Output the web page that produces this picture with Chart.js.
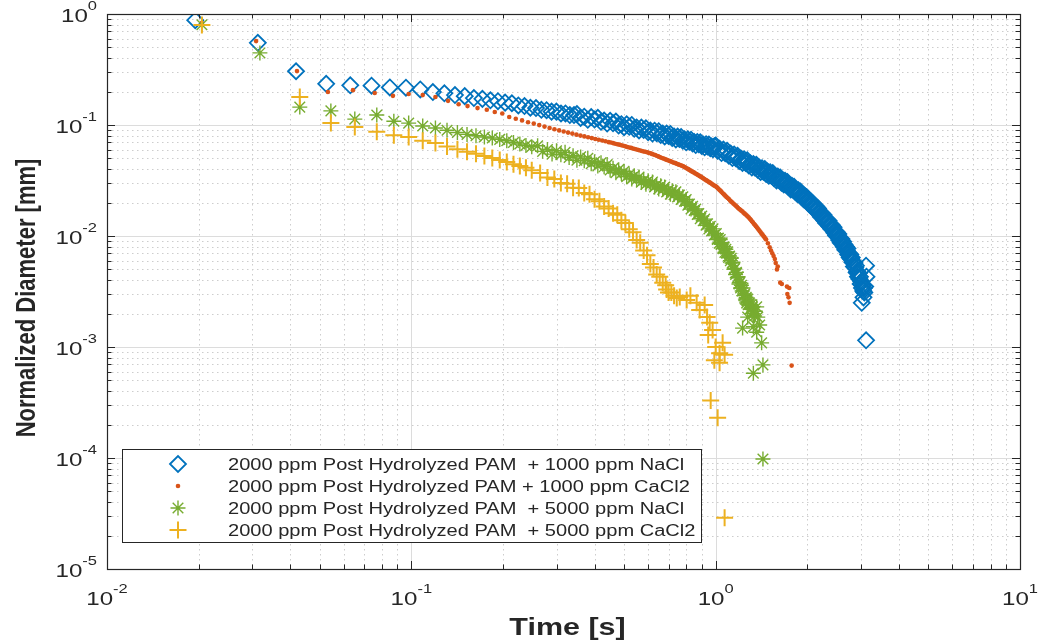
<!DOCTYPE html>
<html><head><meta charset="utf-8">
<script src="https://cdn.jsdelivr.net/npm/chart.js@4"></script>
<style>html,body{margin:0;padding:0;background:#fff;}#wrap{width:1042px;height:644px;}canvas{display:block;}</style>
</head><body><div id="wrap"><canvas id="c" width="1042" height="644"></canvas></div>
<script>
// ---------- data ----------
const legendLabels = [
  '2000 ppm Post Hydrolyzed PAM  + 1000 ppm NaCl',
  '2000 ppm Post Hydrolyzed PAM + 1000 ppm CaCl2',
  '2000 ppm Post Hydrolyzed PAM  + 5000 ppm NaCl',
  '2000 ppm Post Hydrolyzed PAM  + 5000 ppm CaCl2'
];
const xAxisTitle = 'Time [s]';
const yAxisTitle = 'Normalized Diameter [mm]';
const xTickValues = [0.01, 0.1, 1, 10];
const xTickExps = ['-2', '-1', '0', '1'];
const yTickValues = [1e-5, 1e-4, 1e-3, 1e-2, 1e-1, 1];
const yTickExps = ['-5', '-4', '-3', '-2', '-1', '0'];

const blueTime = [0.0195,0.0313,0.0418,0.0525,0.063,0.074,0.085,0.096,
 0.107,0.1177,0.1284,0.1391,0.1498,0.1605,0.1712,0.1819,0.1926,0.2033,0.214,0.2247,0.2354,0.2461,0.2568,0.2675,0.2782,0.2889,0.2996,0.3103,0.321,0.3317,0.3424,
 0.35,0.36,0.37,0.38,0.39,0.40,0.41,0.42,0.43,0.44,0.45,0.46,0.47,0.48,0.49,0.50,0.51,0.52,0.53,0.54,0.55,0.56,0.57,0.58,0.59,0.60,0.61,0.62,0.63,0.64,0.65,0.66,0.67,0.68,0.69,
 0.70,0.71,0.72,0.73,0.74,0.75,0.76,0.77,0.78,0.79,0.80,0.81,0.82,0.83,0.84,0.85,0.86,0.87,0.88,0.89,0.90,0.91,0.92,0.93,0.94,0.95,0.96,0.97,0.98,0.99,
 1.000,1.015,1.030,1.045,1.060,1.075,1.090,1.105,1.120,1.135,1.150,1.165,1.180,1.195,1.210,1.225,1.240,1.255,1.270,1.285,1.300,1.315,1.330,1.345,1.360,1.375,1.390,1.405,1.420,1.435,
 1.450,1.465,1.480,1.495,1.510,1.525,1.540,1.555,1.570,1.585,1.600,1.615,1.630,1.645,1.660,1.675,1.690,1.705,1.720,1.735,1.750,1.765,1.780,1.795,1.810,1.825,1.840,1.855,1.870,1.885,
 1.900,1.915,1.930,1.945,1.960,1.975,1.990,2.005,2.020,2.035,2.050,2.065,2.080,2.095,2.110,2.125,2.140,2.155,2.170,2.185,2.200,2.215,2.230,2.245,2.260,2.275,2.290,2.305,2.320,2.335,
 2.350,2.365,2.380,2.395,2.410,2.425,2.440,2.455,2.470,2.485,2.500,2.515,2.530,2.545,2.560,2.575,2.590,2.605,2.620,2.635,2.650,2.665,2.680,2.695,2.710,2.725,2.740,2.755,2.770,2.785,
 2.800,2.815,2.830,2.845,2.860,2.875,2.890,2.905,2.920,2.935,2.950,2.965,2.980,2.995,3.010,3.025,3.040,3.055,3.070,
 3.02,3.06,3.08,3.10,3.12,3.13,3.12];
const blueDiam = [0.88,0.55,0.305,0.235,0.228,0.226,0.218,0.217,
 0.209,0.198,0.193,0.186,0.182,0.175,0.172,0.167,0.164,0.159,0.157,0.150,0.148,0.143,0.142,0.137,0.136,0.132,0.132,0.127,0.127,0.123,0.123,
 0.1255,0.1157,0.1188,0.1114,0.1179,0.1119,0.1161,0.1069,0.1098,0.1030,0.1091,0.1035,0.1073,0.0988,0.1017,0.0956,0.1014,0.0963,0.1002,0.0924,0.0950,0.0893,0.0947,0.0900,0.0935,0.0863,0.0890,0.0837,0.0889,0.0845,0.0879,0.0812,0.0837,0.0788,0.0836,
 0.0796,0.0828,0.0764,0.0788,0.0741,0.0787,0.0748,0.0779,0.0720,0.0742,0.0699,0.0743,0.0708,0.0736,0.0681,0.0702,0.0660,0.0702,0.0670,0.0699,0.0647,0.0668,0.0630,0.0671,0.0641,0.0668,0.0618,0.0639,0.0605,0.0644,
 0.0652,0.0586,0.0611,0.0559,0.0601,0.0557,0.0587,0.0528,0.0552,0.0504,0.0543,0.0502,0.0528,0.0475,0.0498,0.0456,0.0491,0.0455,0.0480,0.0432,0.0452,0.0414,0.0446,0.0415,0.0438,0.0395,0.0413,0.0378,0.0408,0.0379,
 0.0401,0.0362,0.0380,0.0349,0.0376,0.0349,0.0369,0.0331,0.0346,0.0317,0.0343,0.0319,0.0336,0.0302,0.0317,0.0291,0.0314,0.0291,0.0307,0.0276,0.0288,0.0263,0.0284,0.0263,0.0277,0.0250,0.0261,0.0239,0.0258,0.0238,
 0.0251,0.0225,0.0234,0.0214,0.0230,0.0213,0.0224,0.0201,0.0209,0.0191,0.0205,0.0189,0.0198,0.0179,0.0187,0.0171,0.0184,0.0170,0.0177,0.0158,0.0164,0.0149,0.0160,0.0148,0.0155,0.0138,0.0144,0.0131,0.0141,0.0130,
 0.0137,0.0122,0.0128,0.0116,0.0125,0.0115,0.0120,0.0107,0.0111,0.0101,0.0108,0.0099,0.0104,0.0092,0.0096,0.0087,0.0094,0.0085,0.0089,0.0080,0.0084,0.0075,0.0080,0.0074,0.0077,0.0068,0.0070,0.0064,0.0068,0.0062,
 0.0064,0.0058,0.0059,0.0053,0.0057,0.0052,0.0054,0.0047,0.0048,0.0043,0.0046,0.0041,0.0043,0.0037,0.0039,0.0034,0.0036,0.0032,0.0034,
 0.0025,0.0028,0.0031,0.0035,0.0054,0.0043,0.00115];

const redTime = [0.0205,0.0309,0.0421,0.0532,0.0643,0.0758,0.087,0.098,0.109,0.120,0.132,0.143,0.153,0.165,0.177,0.188,0.199,
 0.2097,0.2204,0.2311,0.2418,0.2525,0.2632,0.2739,0.2846,0.2953,0.306,0.3167,0.3274,0.3381,0.3488,0.3595,0.3702,0.3809,0.3916,0.4023,0.413,0.4237,0.4344,0.4451,
 0.4525,0.46,0.4675,0.475,0.4825,0.49,0.4975,0.505,0.5125,0.52,0.5275,0.535,0.5425,0.55,0.5575,0.565,0.5725,0.58,0.5875,0.595,0.6025,0.61,0.6175,0.625,0.6325,0.64,0.6475,0.655,0.6625,0.67,0.6775,0.685,0.6925,
 0.70,0.7075,0.715,0.7225,0.73,0.7375,0.745,0.7525,0.76,0.7675,0.775,0.7825,0.79,0.7975,0.805,0.8125,0.82,0.8275,0.835,0.8425,0.85,0.8575,0.865,0.8725,0.88,0.8875,0.895,0.9025,0.91,0.9175,0.925,0.9325,
 0.94,0.9475,0.955,0.9625,0.97,0.9775,0.985,0.9925,1.00,1.0075,1.015,1.0225,1.03,1.0375,1.045,
 1.055,1.065,1.075,1.085,1.095,1.105,1.115,1.125,1.135,1.145,1.155,1.165,1.175,1.185,1.195,1.205,1.215,1.225,1.235,1.245,1.255,1.265,1.275,1.285,1.295,1.305,1.315,1.325,1.335,1.345,
 1.355,1.365,1.375,1.385,1.395,1.405,1.415,1.425,1.435,1.445,1.455,1.465,
 1.485,1.505,1.52,1.535,1.55,1.565,1.575,1.59,1.60,1.63,1.65,1.715,1.745,1.72,1.735,1.75,1.777];
const redDiam = [0.83,0.57,0.306,0.198,0.206,0.194,0.183,0.190,0.186,0.179,0.165,0.154,0.148,0.142,0.137,0.131,0.127,
 0.118,0.114,0.110,0.106,0.103,0.0998,0.0967,0.0941,0.0915,0.0894,0.0874,0.0854,0.0837,0.0819,0.0803,0.0789,0.0775,0.0762,0.0748,0.0736,0.0724,0.0713,0.0701,
 0.0695,0.0687,0.0678,0.0671,0.0665,0.0656,0.0650,0.0642,0.0634,0.0628,0.0622,0.0614,0.0607,0.0602,0.0595,0.0590,0.0583,0.0578,0.0574,0.0568,0.0561,0.0556,0.0549,0.0542,0.0536,0.0528,0.0522,0.0515,0.0507,0.0502,0.0497,0.0490,0.0484,
 0.0479,0.0473,0.0468,0.0462,0.0457,0.0453,0.0448,0.0442,0.0438,0.0434,0.0429,0.0424,0.0418,0.0412,0.0406,0.0400,0.0394,0.0388,0.0382,0.0377,0.0372,0.0366,0.0361,0.0356,0.0351,0.0346,0.0341,0.0336,0.0331,0.0326,0.0321,0.0317,
 0.0313,0.0308,0.0304,0.0300,0.0296,0.0291,0.0287,0.0284,0.0280,0.0276,0.0271,0.0265,0.0260,0.0255,0.0250,
 0.0243,0.0237,0.0231,0.0225,0.0220,0.0215,0.0209,0.0204,0.0200,0.0195,0.0191,0.0187,0.0183,0.0179,0.0175,0.0172,0.0169,0.0166,0.0162,0.0159,0.0156,0.0153,0.0150,0.0147,0.0143,0.0140,0.0136,0.0133,0.0129,0.0126,
 0.0123,0.0120,0.0117,0.0114,0.0111,0.0108,0.0105,0.0103,0.0100,0.0098,0.0095,0.0093,
 0.0086,0.0079,0.0074,0.0070,0.0066,0.0062,0.0057,0.0050,0.0053,0.0038,0.0037,0.0035,0.0034,0.0030,0.0028,0.0025,0.00068];

const greenTime = [0.0205,0.0318,0.043,0.0544,0.0652,0.077,0.0876,0.098,0.109,0.120,
 0.131,0.1417,0.1524,0.1631,0.1738,0.1845,0.1952,0.2059,0.2166,0.2273,0.238,0.2487,
 0.26,0.27,0.28,0.29,0.30,0.31,0.32,0.33,0.34,0.35,0.36,0.37,0.38,0.39,0.40,0.41,0.42,0.43,0.44,0.45,0.46,0.47,0.48,0.49,0.50,0.51,0.52,0.53,0.54,0.55,0.56,0.57,0.58,0.59,0.60,0.61,0.62,0.63,
 0.64,0.65,0.66,0.67,0.68,0.69,0.70,0.71,0.72,0.73,0.74,0.75,0.76,0.77,0.78,0.79,0.80,0.81,0.82,0.83,0.84,0.85,0.86,0.87,0.88,0.89,0.90,0.91,0.92,0.93,0.94,0.95,0.96,0.97,0.98,0.99,
 1.005,1.0125,1.02,1.0275,1.035,1.0425,1.05,1.0575,1.065,1.0725,1.08,1.0875,1.095,1.1025,1.11,1.1175,1.125,1.1325,1.14,1.1475,1.155,1.1625,1.17,1.1775,1.185,1.1925,1.20,1.2075,1.215,1.2225,
 1.23,1.2375,1.245,1.2525,1.26,1.2675,1.275,1.2825,1.29,1.2975,1.305,1.3125,1.32,1.3275,1.335,1.3425,1.35,
 1.264,1.364,1.274,1.375,1.395,1.226,1.33,1.364,1.416,1.43,1.33,1.43];
const greenDiam = [0.80,0.446,0.145,0.134,0.113,0.123,0.108,0.104,0.098,0.094,
 0.0898,0.0856,0.0823,0.0799,0.0779,0.0763,0.0742,0.0721,0.0696,0.0674,0.0655,0.0636,
 0.0651,0.0579,0.0601,0.0547,0.0586,0.0540,0.0567,0.0509,0.0528,0.0481,0.0516,0.0476,0.0500,0.0448,0.0467,0.0428,0.0457,0.0420,0.0440,0.0393,0.0407,0.0371,0.0396,0.0366,0.0383,0.0343,0.0357,0.0326,0.0349,0.0323,0.0340,0.0305,0.0318,0.0292,0.0314,0.0291,0.0307,0.0276,
 0.0289,0.0265,0.0284,0.0263,0.0276,0.0249,0.0259,0.0238,0.0255,0.0236,0.0250,0.0225,0.0234,0.0213,0.0226,0.0206,0.0213,0.0189,0.0194,0.0175,0.0185,0.0170,0.0175,0.0156,0.0159,0.0143,0.0151,0.0137,0.0142,0.0125,0.0129,0.0116,0.0122,0.0111,0.0116,0.0102,
 0.0105,0.0093,0.0096,0.0086,0.0093,0.0084,0.0087,0.0077,0.0080,0.0071,0.0076,0.0070,0.0072,0.0064,0.0066,0.0060,0.0063,0.0057,0.0058,0.0050,0.0051,0.0045,0.0047,0.0042,0.0043,0.0037,0.0038,0.0034,0.0036,0.0032,
 0.0034,0.0029,0.0030,0.0027,0.0028,0.0026,0.0027,0.0024,0.0025,0.0022,0.0024,0.0022,0.0023,0.0020,0.0021,0.0019,0.0021,
 0.0025,0.0023,0.00186,0.00186,0.00158,0.00148,0.00152,0.00136,0.00109,0.00069,0.00058,0.000098];

const yellowTime = [0.0205,0.043,0.0544,0.0652,0.077,0.0876,0.098,0.109,0.120,
 0.131,0.1417,0.1524,0.1631,0.1738,0.1845,0.1952,0.2059,0.2166,0.2273,0.238,0.2487,
 0.265,0.28,0.295,0.31,0.325,0.34,0.355,0.37,0.385,0.40,0.415,0.43,0.445,0.46,0.475,0.49,0.505,0.52,0.535,0.55,0.565,0.58,0.595,0.61,0.625,0.64,0.655,0.67,0.685,0.70,0.715,0.73,0.745,
 0.690,0.762,0.803,0.826,0.866,0.886,0.920,0.937,0.956,0.977,0.945,1.054,1.0,1.03,1.07,1.03,0.99,0.963,1.015,1.07];
const yellowDiam = [0.795,0.179,0.104,0.096,0.087,0.081,0.078,0.072,0.069,
 0.0639,0.0605,0.0574,0.0550,0.0527,0.0505,0.0483,0.0463,0.0444,0.0427,0.0412,0.0392,
 0.0370,0.0336,0.0327,0.0300,0.0296,0.0272,0.0270,0.0244,0.0238,0.0214,0.0206,0.0184,0.0177,0.0160,0.0155,0.0139,0.0131,0.0115,0.0108,0.0092,0.0087,0.0074,0.0067,0.0056,0.0052,0.0045,0.0043,0.0038,0.0036,0.0031,0.0031,0.0029,0.00276,
 0.0033,0.00282,0.00265,0.0029,0.0025,0.00215,0.00239,0.00186,0.00165,0.00142,0.00128,0.00109,0.00100,0.00088,0.00085,0.00072,0.00076,0.00033,0.00023,0.000029];

// ---------- styling ----------
const COLORS = ['#0072BD', '#D95319', '#77AC30', '#EDB120'];
const AXIS_COLOR = '#262626';
const FONT = "'Liberation Sans', Arial, Helvetica, sans-serif";
const SX = 1.27; // horizontal text stretch seen in the reference

function pts(T, D) { return T.map((t, i) => ({ x: t, y: D[i] })); }

function minorValues(lo, hi) {
  const out = [];
  for (let e = Math.round(Math.log10(lo)); e < Math.round(Math.log10(hi)); e++) {
    for (let m = 2; m <= 9; m++) out.push(m * Math.pow(10, e));
  }
  return out;
}

const gridPlugin = {
  id: 'matlabGrid',
  beforeDatasetsDraw(chart) {
    const { ctx, chartArea: a, scales: { x, y } } = chart;
    ctx.save();
    ctx.lineWidth = 1;
    ctx.strokeStyle = '#cdcdcd';
    ctx.setLineDash([1.5, 3.5]);
    minorValues(0.01, 10).forEach(v => {
      const px = Math.round(x.getPixelForValue(v)) + 0.5;
      ctx.beginPath(); ctx.moveTo(px, a.top); ctx.lineTo(px, a.bottom); ctx.stroke();
    });
    minorValues(1e-5, 1).forEach(v => {
      const py = Math.round(y.getPixelForValue(v)) + 0.5;
      ctx.beginPath(); ctx.moveTo(a.left, py); ctx.lineTo(a.right, py); ctx.stroke();
    });
    ctx.setLineDash([]);
    ctx.strokeStyle = '#dcdcdc';
    xTickValues.forEach(v => {
      const px = Math.round(x.getPixelForValue(v)) + 0.5;
      ctx.beginPath(); ctx.moveTo(px, a.top); ctx.lineTo(px, a.bottom); ctx.stroke();
    });
    yTickValues.forEach(v => {
      const py = Math.round(y.getPixelForValue(v)) + 0.5;
      ctx.beginPath(); ctx.moveTo(a.left, py); ctx.lineTo(a.right, py); ctx.stroke();
    });
    ctx.restore();
  }
};

function stretchedText(ctx, s, x, y, font, align) {
  ctx.save();
  ctx.font = font;
  ctx.translate(x, y);
  ctx.scale(SX, 1);
  ctx.textAlign = align || 'left';
  ctx.textBaseline = 'alphabetic';
  ctx.fillText(s, 0, 0);
  ctx.restore();
}
function textW(ctx, s, font) { ctx.save(); ctx.font = font; const w = ctx.measureText(s).width * SX; ctx.restore(); return w; }

const decorPlugin = {
  id: 'matlabDecor',
  afterDatasetsDraw(chart) {
    const { ctx, chartArea: a, scales: { x, y } } = chart;
    ctx.save();
    ctx.strokeStyle = AXIS_COLOR;
    ctx.lineWidth = 1;
    const drawXT = (v, len) => {
      const px = Math.round(x.getPixelForValue(v)) + 0.5;
      ctx.beginPath();
      ctx.moveTo(px, a.bottom); ctx.lineTo(px, a.bottom - len);
      ctx.moveTo(px, a.top); ctx.lineTo(px, a.top + len);
      ctx.stroke();
    };
    const drawYT = (v, len) => {
      const py = Math.round(y.getPixelForValue(v)) + 0.5;
      ctx.beginPath();
      ctx.moveTo(a.left, py); ctx.lineTo(a.left + len, py);
      ctx.moveTo(a.right, py); ctx.lineTo(a.right - len, py);
      ctx.stroke();
    };
    minorValues(0.01, 10).forEach(v => drawXT(v, 4.5));
    xTickValues.forEach(v => drawXT(v, 8));
    minorValues(1e-5, 1).forEach(v => drawYT(v, 4.5));
    yTickValues.forEach(v => drawYT(v, 8));
    ctx.lineWidth = 1.2;
    ctx.strokeRect(Math.round(a.left) + 0.5, Math.round(a.top) + 0.5, Math.round(a.right - a.left), Math.round(a.bottom - a.top));

    ctx.fillStyle = AXIS_COLOR;
    const baseF = '19px ' + FONT, expF = '13px ' + FONT;
    xTickValues.forEach((v, i) => {
      const px = x.getPixelForValue(v);
      const w1 = textW(ctx, '10', baseF), w2 = textW(ctx, xTickExps[i], expF);
      const x0 = px - (w1 + w2) / 2;
      stretchedText(ctx, '10', x0, 605, baseF);
      stretchedText(ctx, xTickExps[i], x0 + w1, 593, expF);
    });
    yTickValues.forEach((v, i) => {
      const py = y.getPixelForValue(v);
      const w1 = textW(ctx, '10', baseF), w2 = textW(ctx, yTickExps[i], expF);
      const x0 = 97 - (w1 + w2);
      stretchedText(ctx, '10', x0, py + 8, baseF);
      stretchedText(ctx, yTickExps[i], x0 + w1, py - 4, expF);
    });

    stretchedText(ctx, xAxisTitle, (a.left + a.right) / 2 + 4, 635, 'bold 24px ' + FONT, 'center');
    ctx.save();
    ctx.font = 'bold 22px ' + FONT;
    ctx.translate(35, 298);
    ctx.scale(SX, 1);
    ctx.rotate(-Math.PI / 2);
    ctx.textAlign = 'center';
    ctx.textBaseline = 'alphabetic';
    ctx.fillText(yAxisTitle, 0, 0);
    ctx.restore();

    // legend
    const L = { x: 122, y: 449, w: 579, h: 93 };
    ctx.fillStyle = '#ffffff';
    ctx.fillRect(L.x, L.y, L.w, L.h);
    ctx.strokeStyle = AXIS_COLOR;
    ctx.lineWidth = 1;
    ctx.strokeRect(L.x + 0.5, L.y + 0.5, L.w, L.h);
    const rowY = [464, 486, 508, 530];
    const mx = 178;
    ctx.strokeStyle = COLORS[0]; ctx.lineWidth = 1.8;
    ctx.beginPath();
    ctx.moveTo(mx - 8, rowY[0]); ctx.lineTo(mx, rowY[0] - 8); ctx.lineTo(mx + 8, rowY[0]); ctx.lineTo(mx, rowY[0] + 8); ctx.closePath(); ctx.stroke();
    ctx.fillStyle = COLORS[1];
    ctx.beginPath(); ctx.arc(mx, rowY[1], 2.3, 0, Math.PI * 2); ctx.fill();
    ctx.strokeStyle = COLORS[2]; ctx.lineWidth = 1.4;
    ctx.beginPath();
    const r3 = 7.5, d3 = r3 * Math.SQRT1_2;
    ctx.moveTo(mx - r3, rowY[2]); ctx.lineTo(mx + r3, rowY[2]);
    ctx.moveTo(mx, rowY[2] - r3); ctx.lineTo(mx, rowY[2] + r3);
    ctx.moveTo(mx - d3, rowY[2] - d3); ctx.lineTo(mx + d3, rowY[2] + d3);
    ctx.moveTo(mx - d3, rowY[2] + d3); ctx.lineTo(mx + d3, rowY[2] - d3);
    ctx.stroke();
    ctx.strokeStyle = COLORS[3]; ctx.lineWidth = 2;
    ctx.beginPath();
    ctx.moveTo(mx - 8.5, rowY[3]); ctx.lineTo(mx + 8.5, rowY[3]);
    ctx.moveTo(mx, rowY[3] - 8.5); ctx.lineTo(mx, rowY[3] + 8.5);
    ctx.stroke();
    ctx.fillStyle = AXIS_COLOR;
    const legF = '15.8px ' + FONT;
    legendLabels.forEach((s, i) => stretchedText(ctx, s, 228, rowY[i] + 5.5, legF));
    ctx.restore();
  }
};

new Chart(document.getElementById('c').getContext('2d'), {
  type: 'scatter',
  data: {
    datasets: [
      { label: legendLabels[0], data: pts(blueTime, blueDiam), order: 4,
        pointStyle: 'rectRot', pointRadius: 8, pointBorderWidth: 1.8,
        pointBorderColor: COLORS[0], pointBackgroundColor: 'rgba(0,0,0,0)' },
      { label: legendLabels[1], data: pts(redTime, redDiam), order: 3,
        pointStyle: 'circle', pointRadius: 2.3, pointBorderWidth: 0,
        pointBorderColor: COLORS[1], pointBackgroundColor: COLORS[1] },
      { label: legendLabels[2], data: pts(greenTime, greenDiam), order: 2,
        pointStyle: 'star', pointRadius: 7.5, pointBorderWidth: 1.4,
        pointBorderColor: COLORS[2], pointBackgroundColor: COLORS[2] },
      { label: legendLabels[3], data: pts(yellowTime, yellowDiam), order: 1,
        pointStyle: 'cross', pointRadius: 8.5, pointBorderWidth: 2,
        pointBorderColor: COLORS[3], pointBackgroundColor: COLORS[3] }
    ]
  },
  options: {
    responsive: false,
    animation: false,
    events: [],
    devicePixelRatio: 1,
    layout: { padding: { left: 107, top: 14, right: 22, bottom: 75 } },
    plugins: { legend: { display: false }, tooltip: { enabled: false } },
    scales: {
      x: { type: 'logarithmic', min: 0.01, max: 10, display: false },
      y: { type: 'logarithmic', min: 1e-5, max: 1, display: false }
    }
  },
  plugins: [gridPlugin, decorPlugin]
});
</script>
</body></html>
